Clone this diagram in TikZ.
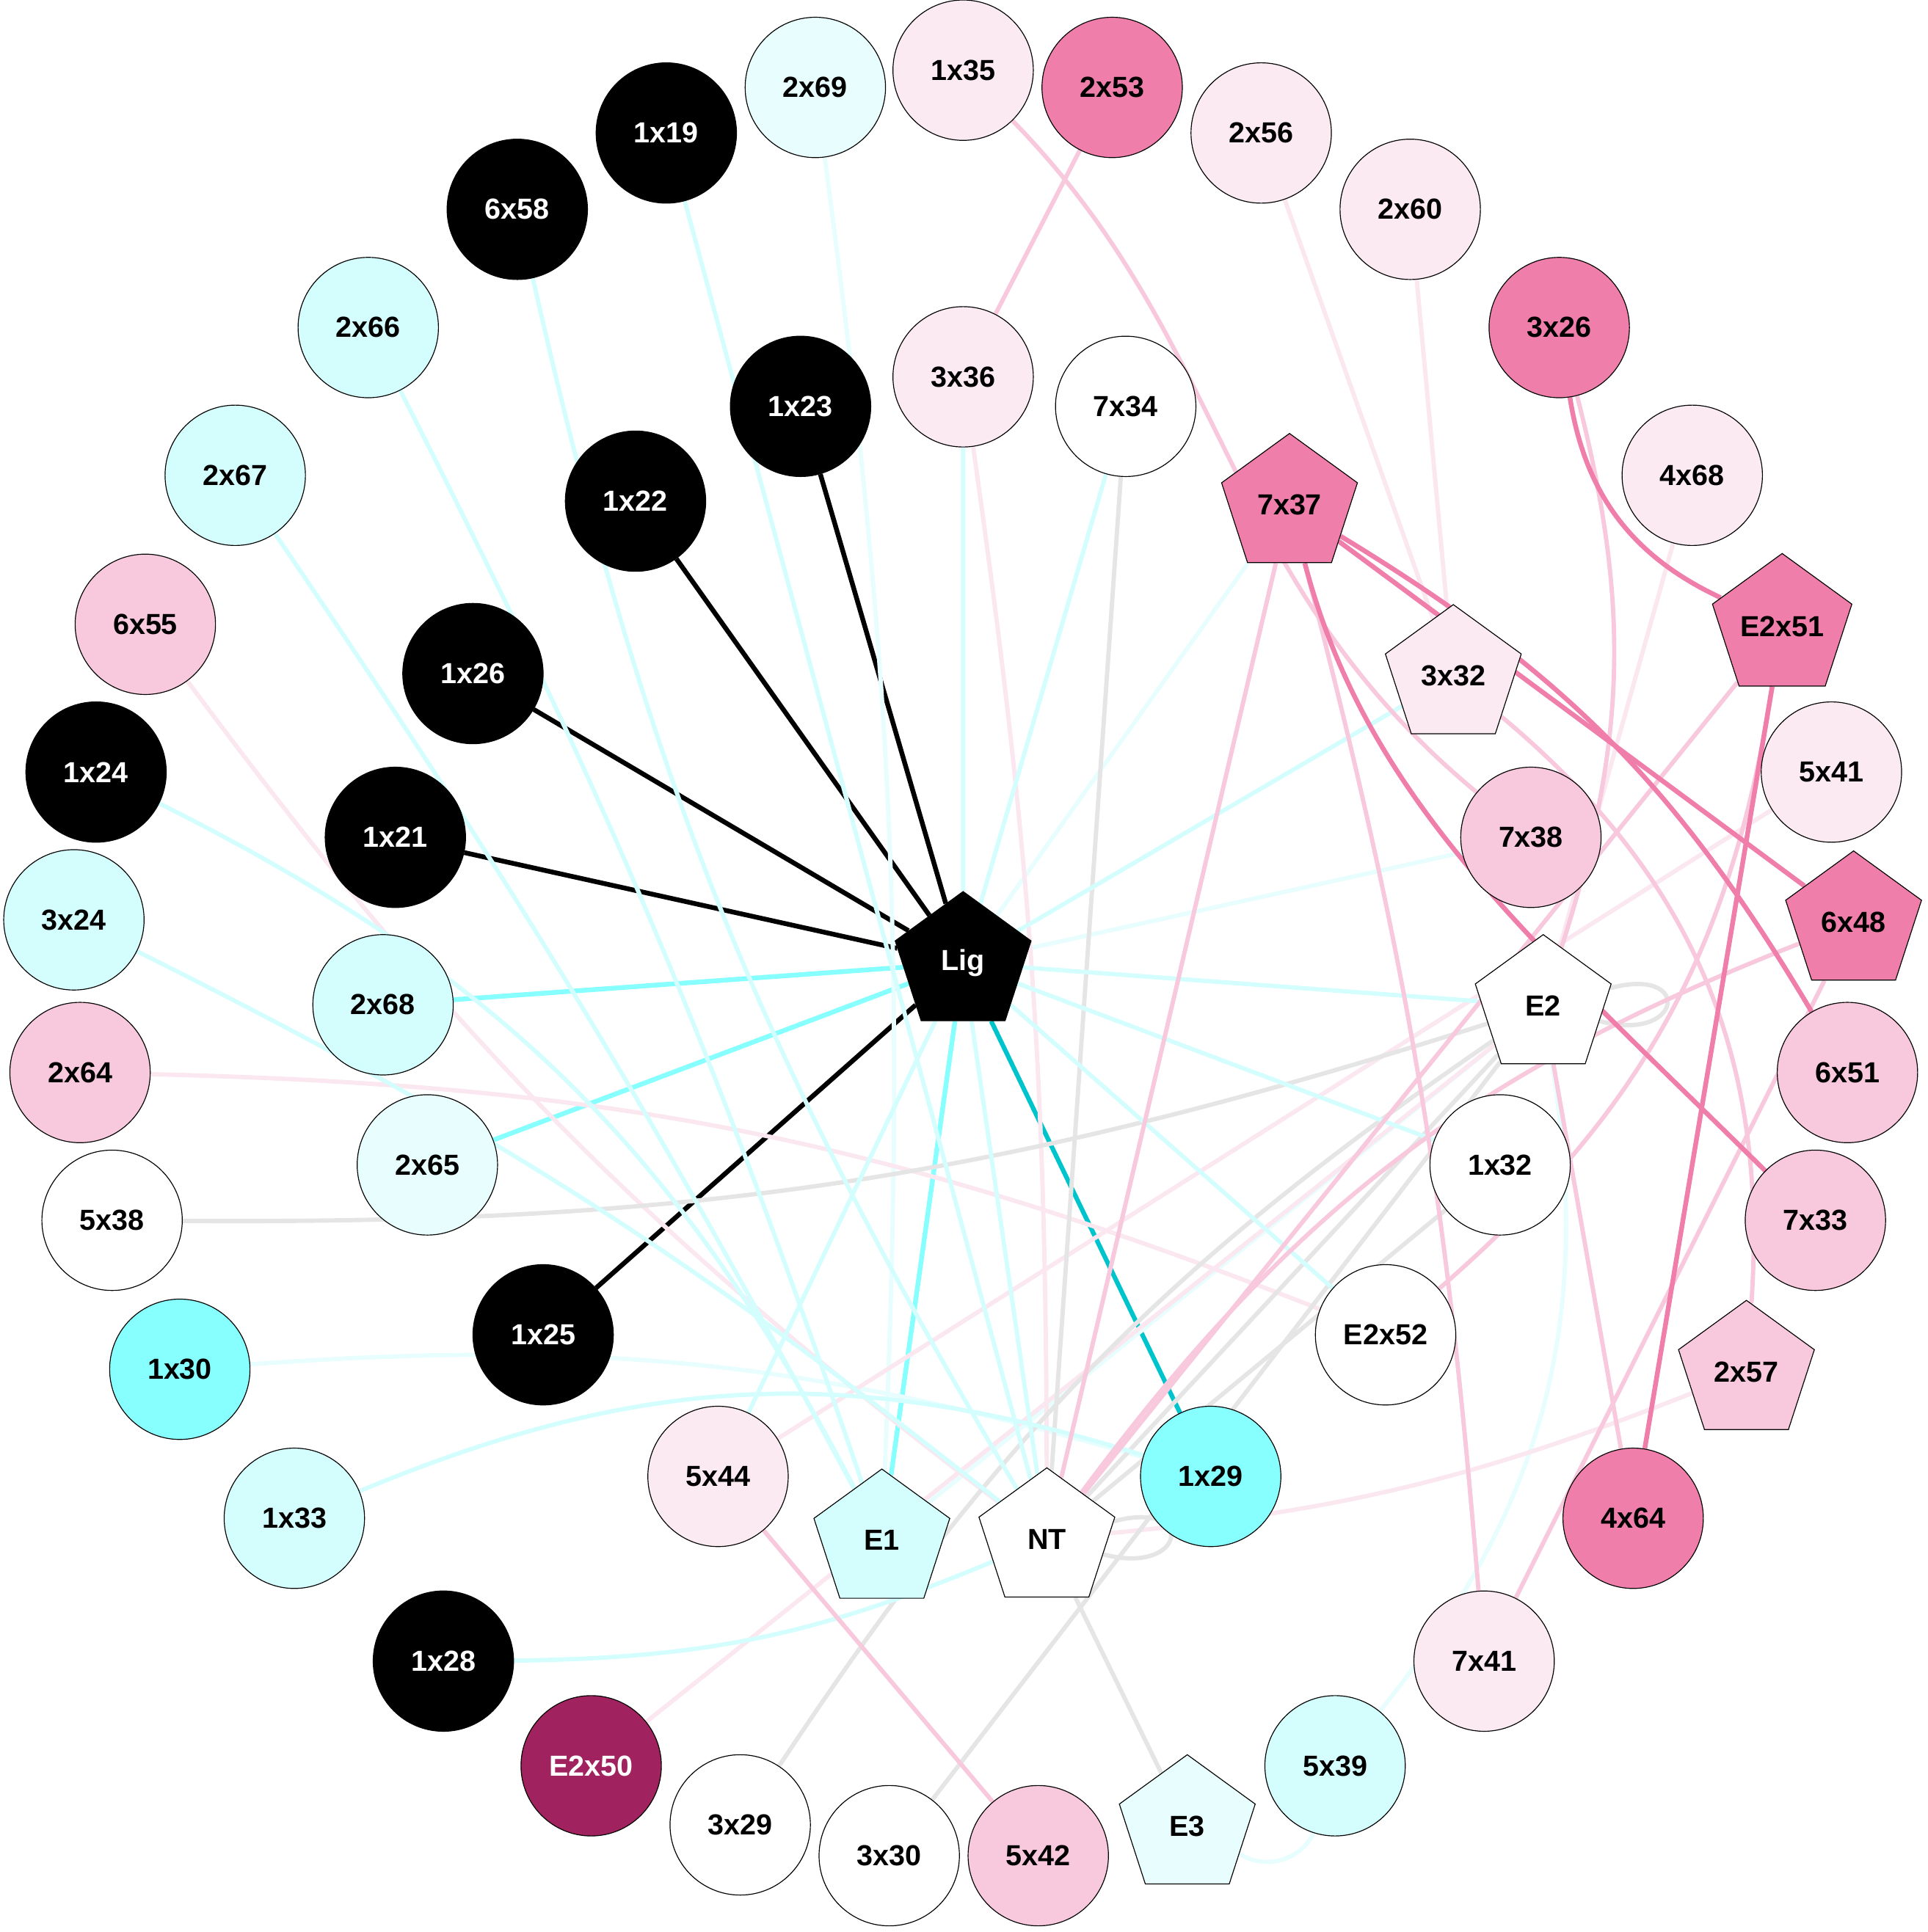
\documentclass[tikz,border=0pt]{standalone}
\usepackage{fontspec}
\setmainfont{Liberation Sans}
\usetikzlibrary{shapes.geometric,backgrounds}

\definecolor{pks}{HTML}{F07EAB}
\definecolor{pkm}{HTML}{F8C8DD}
\definecolor{pkl}{HTML}{FBEAF2}
\definecolor{mag}{HTML}{A0225E}
\definecolor{cya}{HTML}{88FFFF}
\definecolor{cyl}{HTML}{D4FEFE}
\definecolor{cyvl}{HTML}{E8FEFE}
\definecolor{ecyd}{HTML}{00C4CC}
\definecolor{egry}{HTML}{E5E5E5}

\tikzset{
  vtx/.style={draw=black, line width=0.4pt, inner sep=0pt,
    font=\bfseries\fontsize{13.4}{15}\selectfont},
  res/.style={vtx, circle, minimum size=2.28cm},
  site/.style={vtx, regular polygon, regular polygon sides=5, minimum size=2.32cm},
  fblk/.style={fill=black, text=white},
  fmag/.style={fill=mag, text=white},
  fpks/.style={fill=pks},
  fpkm/.style={fill=pkm},
  fpkl/.style={fill=pkl},
  fcya/.style={fill=cya},
  fcyl/.style={fill=cyl},
  fcyvl/.style={fill=cyvl},
  fwht/.style={fill=white},
  ecyvl/.style={draw=cyvl, line width=2pt},
  ecyl/.style={draw=cyl, line width=2pt},
  ecya/.style={draw=cya, line width=2.2pt},
  ecyd/.style={draw=ecyd, line width=2.1pt},
  epkl/.style={draw=pkl!90!pkm, line width=2pt},
  epkm/.style={draw=pkm, line width=2pt},
  epks/.style={draw=pks, line width=2.2pt},
  egry/.style={draw=egry, line width=2pt},
  eblk/.style={draw=black, line width=2.2pt}
}

\begin{document}
\begin{tikzpicture}[x=0.02cm, y=-0.02cm]
      \useasboundingbox (0,0) rectangle (1565,1569);
      \draw
        (662,71) node[res,fcyvl] (2x69){2x69}
        (782,57) node[res,fpkl] (1x35){1x35}
        (903,71) node[res,fpks] (2x53){2x53}
        (541,108) node[res,fblk] (1x19){1x19}
        (1024,108) node[res,fpkl] (2x56){2x56}
        (420,170) node[res,fblk] (6x58){6x58}
        (1145,170) node[res,fpkl] (2x60){2x60}
        (299,266) node[res,fcyl] (2x66){2x66}
        (1266,266) node[res,fpks] (3x26){3x26}
        (191,386) node[res,fcyl] (2x67){2x67}
        (1374,386) node[res,fpkl] (4x68){4x68}
        (118,507) node[res,fpkm] (6x55){6x55}
        (1447,509) node[site,fpks] (E2x51){E2x51}
        (78,627) node[res,fblk] (1x24){1x24}
        (1487,627) node[res,fpkl] (5x41){5x41}
        (60,747) node[res,fcyl] (3x24){3x24}
        (1505,749) node[site,fpks] (6x48){6x48}
        (65,871) node[res,fpkm] (2x64){2x64}
        (1500,871) node[res,fpkm] (6x51){6x51}
        (91,991) node[res,fwht] (5x38){5x38}
        (1474,991) node[res,fpkm] (7x33){7x33}
        (146,1112) node[res,fcya] (1x30){1x30}
        (1418,1114) node[site,fpkm] (2x57){2x57}
        (239,1233) node[res,fcyl] (1x33){1x33}
        (1326,1233) node[res,fpks] (4x64){4x64}
        (360,1349) node[res,fblk] (1x28){1x28}
        (1205,1349) node[res,fpkl] (7x41){7x41}
        (480,1434) node[res,fmag] (E2x50){E2x50}
        (1084,1434) node[res,fcyl] (5x39){5x39}
        (601,1482) node[res,fwht] (3x29){3x29}
        (964,1483) node[site,fcyvl] (E3){E3}
        (722,1507) node[res,fwht] (3x30){3x30}
        (843,1507) node[res,fpkm] (5x42){5x42}
        (650,330) node[res,fblk] (1x23){1x23}
        (782,306) node[res,fpkl] (3x36){3x36}
        (914,330) node[res,fwht] (7x34){7x34}
        (516,407) node[res,fblk] (1x22){1x22}
        (1047,410) node[site,fpks] (7x37){7x37}
        (384,547) node[res,fblk] (1x26){1x26}
        (1180,549) node[site,fpkl] (3x32){3x32}
        (321,680) node[res,fblk] (1x21){1x21}
        (1243,680) node[res,fpkm] (7x38){7x38}
        (782,782) node[site,fblk] (Lig){Lig}
        (311,816) node[res,fcyl] (2x68){2x68}
        (1253,817) node[site,fwht] (E2){E2}
        (347,946) node[res,fcyvl] (2x65){2x65}
        (1218,946) node[res,fwht] (1x32){1x32}
        (441,1084) node[res,fblk] (1x25){1x25}
        (1125,1084) node[res,fwht] (E2x52){E2x52}
        (583,1199) node[res,fpkl] (5x44){5x44}
        (983,1199) node[res,fcya] (1x29){1x29}
        (716,1251) node[site,fcyl] (E1){E1}
        (850,1250) node[site,fwht] (NT){NT};
      \begin{scope}[on background layer]
      \begin{scope}[eblk]
        \draw (Lig) to (1x23);
        \draw (Lig) to (1x22);
        \draw (Lig) to (1x26);
        \draw (Lig) to (1x21);
        \draw (Lig) to (1x25);
      \end{scope}
      \begin{scope}[ecya]
        \draw (Lig) to (2x68);
        \draw (Lig) to (2x65);
        \draw (Lig) to (E1);
      \end{scope}
      \draw[ecyd] (Lig) to (1x29);
      \begin{scope}[ecyvl]
        \draw (2x69) to[bend left=5] (E1);
        \draw (Lig) to (7x37);
        \draw (Lig) to (7x38);
        \draw (1x30) to[bend left=10] (1x29);
        \draw (E2) to (E1);
        \draw (E2) to[bend left=24] (5x39);
        \draw (E3) to[bend right=50] (5x39);
      \end{scope}
      \begin{scope}[epkl]
        \draw (2x56) to (3x32);
        \draw (2x60) to (3x32);
        \draw (4x68) to (E2);
        \draw (3x36) to[bend left=4] (NT);
        \draw (6x55) to[bend right=8] (NT);
        \draw (2x64) to[bend left=10] (E2x52);
        \draw (5x44) to (5x41);
        \draw (E2x50) to (E2);
        \draw (2x57) to[bend left=8] (NT);
      \end{scope}
      \begin{scope}[egry]
        \draw (7x34) to (NT);
        \draw (5x38) to[bend right=9] (E2);
        \draw (E2) to (NT);
        \draw (1x32) to (NT);
        \draw (E2) to[bend right=11] (3x29);
        \draw (E2) to (3x30);
        \draw (NT) to (E3);
        \draw (NT) to[out=15,in=-15,min distance=1.4cm] (NT);
        \draw (E2) to[out=15,in=-15,min distance=1.4cm] (E2);
      \end{scope}
      \begin{scope}[ecyl]
        \draw (Lig) to (3x36);
        \draw (Lig) to (7x34);
        \draw (Lig) to (3x32);
        \draw (Lig) to (E2);
        \draw (Lig) to (1x32);
        \draw (Lig) to (E2x52);
        \draw (Lig) to (NT);
        \draw (Lig) to (5x44);
        \draw (1x19) to (NT);
        \draw (6x58) to[bend right=9] (NT);
        \draw (2x66) to[bend left=4] (E1);
        \draw (2x67) to[bend left=3] (E1);
        \draw (1x24) to[bend left=18] (E1);
        \draw (3x24) to[bend left=6] (NT);
        \draw (1x33) to[bend left=20] (1x29);
        \draw (1x28) to[bend right=11] (NT);
      \end{scope}
      \begin{scope}[epkm]
        \draw (1x35) .. controls (1000,280) and (990,470) .. (7x38);
        \draw (2x53) to (3x36);
        \draw (3x26) to[bend left=16] (E2);
        \draw (E2) to (4x64);
        \draw (3x32) to[bend left=27] (2x57);
        \draw (7x37) to[bend left=5] (7x41);
        \draw (7x37) to (NT);
        \draw (E2x52) to[bend right=20] (E2x51);
        \draw (6x48) to[bend right=16] (NT);
        \draw (6x48) to (7x41);
        \draw (5x44) to (5x42);
        \draw (E2x51) to (NT);
      \end{scope}
      \begin{scope}[epks]
        \draw (3x26) to[bend right=28] (E2x51);
        \draw (7x37) to (6x48);
        \draw (7x37) to[bend left=14] (6x51);
        \draw (7x37) .. controls (1110,650) and (1240,760) .. (7x33);
        \draw (E2x51) to (4x64);
      \end{scope}
      \end{scope}
    \end{tikzpicture}
\end{document}
